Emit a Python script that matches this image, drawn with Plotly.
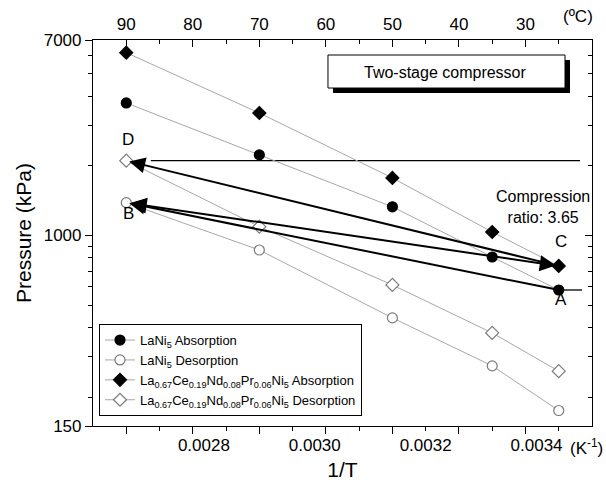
import math
import plotly.graph_objects as go

# ---------------- data ----------------
temps_c = [90, 70, 50, 35, 25]
lani5_abs = [3740, 2230, 1330, 807, 581]
lani5_des = [1386, 865, 440, 273, 175]
alloy_abs = [6170, 3384, 1773, 1035, 738]
alloy_des = [2105, 1091, 611, 379, 259]

top_ticks = [90, 80, 70, 60, 50, 40, 30]
top_minor = [85, 75, 65, 55, 45, 35, 25]
bottom_ticks = [0.0028, 0.0030, 0.0032, 0.0034]
bottom_labels = ["0.0028", "0.0030", "0.0032", "0.0034"]
y_ticks = [150, 1000, 7000]
y_labels = ["150", "1000", "7000"]
y_minor = [200, 300, 400, 500, 600, 700, 800, 900, 2000, 3000, 4000, 5000, 6000]

names = [
    "LaNi<sub>5</sub> Absorption",
    "LaNi<sub>5</sub> Desorption",
    "La<sub>0.67</sub>Ce<sub>0.19</sub>Nd<sub>0.08</sub>Pr<sub>0.06</sub>Ni<sub>5</sub> Absorption",
    "La<sub>0.67</sub>Ce<sub>0.19</sub>Nd<sub>0.08</sub>Pr<sub>0.06</sub>Ni<sub>5</sub> Desorption",
]
values = [lani5_abs, lani5_des, alloy_abs, alloy_des]
symbols = ["circle", "circle", "diamond", "diamond"]
fills = ["black", "white", "black", "white"]
edges = ["black", "#7a7a7a", "black", "#7a7a7a"]

FONT = "Arial, 'Liberation Sans', Helvetica, sans-serif"

fig = go.Figure()

# empty helper traces so that the overlaid axes are drawn
for xa, ya in [("x2", "y"), ("x3", "y"), ("x", "y2")]:
    fig.add_trace(go.Scatter(x=[None], y=[None], xaxis=xa, yaxis=ya, mode="lines",
                             showlegend=False, hoverinfo="skip"))

# reference lines at the D and A pressure levels
fig.add_trace(go.Scatter(x=[86.3, 21.8], y=[alloy_des[0], alloy_des[0]], mode="lines",
                         line=dict(color="black", width=1.3), showlegend=False, hoverinfo="skip"))
fig.add_trace(go.Scatter(x=[temps_c[-1], 21.5], y=[lani5_abs[-1], lani5_abs[-1]], mode="lines",
                         line=dict(color="black", width=1.3), showlegend=False, hoverinfo="skip"))

for name, vals, sym, fc, ec in zip(names, values, symbols, fills, edges):
    fig.add_trace(go.Scatter(
        x=temps_c, y=vals, name=name, mode="lines+markers",
        line=dict(color="#a8a8a8", width=1),
        marker=dict(symbol=sym, size=10, color=fc, line=dict(color=ec, width=1.2)),
    ))

L = math.log10
A = (temps_c[-1], L(lani5_abs[-1]))
B = (temps_c[0], L(lani5_des[0]))
C = (temps_c[-1], L(alloy_abs[-1]))
D = (temps_c[0], L(alloy_des[0]))

annotations = []
for head, tail, side in [(B, A, "end"), (C, B, "end+start"), (D, C, "end")]:
    annotations.append(dict(x=head[0], y=head[1], ax=tail[0], ay=tail[1], xref="x", yref="y",
                            axref="x", ayref="y", text="", showarrow=True, arrowhead=2,
                            startarrowhead=2, arrowside=side, startarrowsize=1.6, startstandoff=3,
                            arrowsize=1.6, arrowwidth=2, arrowcolor="black", standoff=3))

lab_font = dict(family=FONT, size=17, color="black")
for txt, pt, dy in [("D", D, 21), ("B", B, -11), ("C", C, 24), ("A", A, -10)]:
    annotations.append(dict(x=pt[0], y=pt[1], xref="x", yref="y", text=txt, showarrow=False,
                            xanchor="center", yanchor="middle",
                            yshift=dy, xshift=2, font=lab_font))

def note(x, y, text, size):
    return dict(x=x, y=y, xref="paper", yref="paper", text=text, showarrow=False,
                xanchor="center", yanchor="middle",
                font=dict(family=FONT, size=size, color="black"))

annotations += [
    note(0.902, 0.567, "Compression<br>ratio: 3.65", 16),
    note(0.7074, 0.917, "Two-stage compressor", 16),
    note(0.972, 1.06, "(ºC)", 17),
    note(0.988, -0.054, "(K<sup>-1</sup>)", 17),
]

bx0, bx1, by0, by1 = 0.4709, 0.9459, 0.8756, 0.9611
sdx, sdy = 5 / 499, 5 / 386
shapes = [
    dict(type="rect", xref="paper", yref="paper", x0=bx0 + sdx, x1=bx1 + sdx, y0=by0 - sdy, y1=by1 - sdy,
         fillcolor="black", line=dict(width=0), layer="above"),
    dict(type="rect", xref="paper", yref="paper", x0=bx0, x1=bx1, y0=by0, y1=by1,
         fillcolor="white", line=dict(color="black", width=1), layer="above"),
]

axis_common = dict(showgrid=False, zeroline=False, showline=True, linecolor="black", linewidth=1.2,
                   tickcolor="black", tickwidth=1.2, automargin=False)
yrange = [L(150), L(7000)]

fig.update_layout(
    width=606, height=487,
    margin=dict(l=93, r=14, t=40, b=61),
    paper_bgcolor="white", plot_bgcolor="white",
    font=dict(family=FONT, color="black"),
    showlegend=True,
    legend=dict(x=0.012, y=0.264, xanchor="left", yanchor="top", bgcolor="white",
                bordercolor="black", borderwidth=1, font=dict(family=FONT, size=13),
                tracegroupgap=0, itemwidth=30),
    xaxis=dict(range=[95, 20], ticks="outside", tickvals=top_ticks, ticklen=7, showticklabels=False,
               minor=dict(tickvals=top_minor, ticks="outside", ticklen=4, tickcolor="black"),
               **axis_common),
    xaxis2=dict(overlaying="x", side="top", anchor="y", range=[95, 20], ticks="inside",
                tickvals=top_ticks, ticklen=7, tickfont=dict(size=17), ticklabelstandoff=2,
                minor=dict(tickvals=top_minor, ticks="inside", ticklen=4, tickcolor="black"),
                **axis_common),
    xaxis3=dict(overlaying="x", side="bottom", anchor="y", range=[0.0026, 0.0035], ticks="",
                tickvals=bottom_ticks, ticktext=bottom_labels, tickfont=dict(size=17),
                showgrid=False, zeroline=False, showline=False, ticklabelstandoff=7,
                automargin=False,
                title=dict(text="1/T", font=dict(size=21), standoff=8)),
    yaxis=dict(type="log", range=yrange, ticks="outside", tickvals=y_ticks, ticktext=y_labels,
               ticklen=7, tickfont=dict(size=17),
               minor=dict(tickvals=y_minor, ticks="outside", ticklen=4, tickcolor="black"),
               title=dict(text="Pressure (kPa)", font=dict(size=21), standoff=6),
               **axis_common),
    yaxis2=dict(overlaying="y", side="right", anchor="x", type="log", range=yrange, ticks="inside",
                tickvals=y_ticks, ticklen=7, showticklabels=False,
                minor=dict(tickvals=y_minor, ticks="inside", ticklen=4, tickcolor="black"),
                **axis_common),
    annotations=annotations,
    shapes=shapes,
)

fig.write_html("out.html")
